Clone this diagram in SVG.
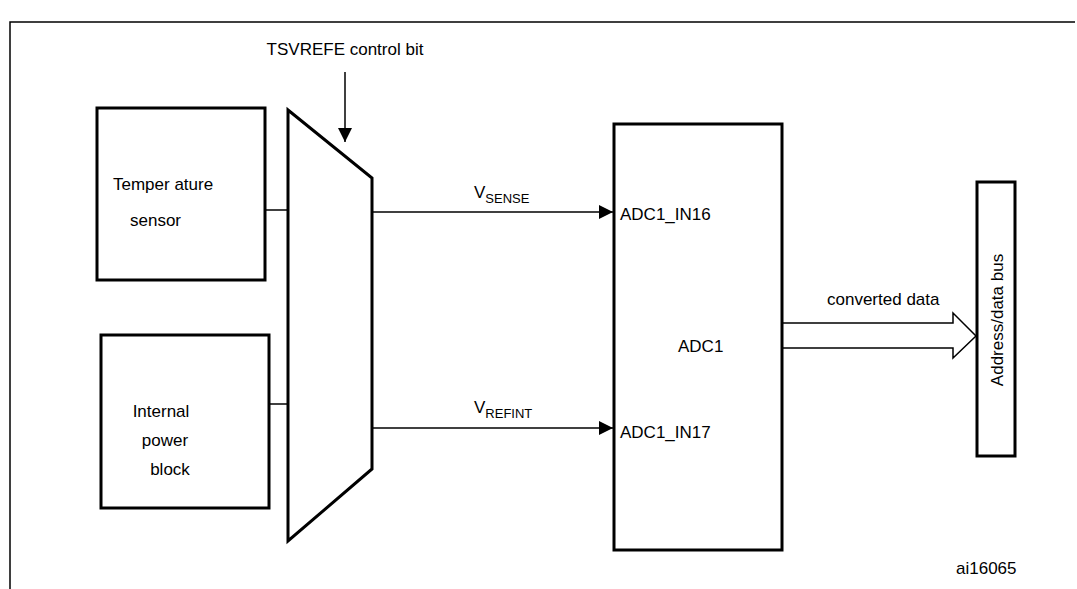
<svg xmlns="http://www.w3.org/2000/svg" width="1077" height="589" viewBox="0 0 1077 589">
<defs>
<style>
.b{fill:none;stroke:#000;stroke-width:3}
.l{fill:none;stroke:#000;stroke-width:1.5}
text{font-family:"Liberation Sans",Arial,sans-serif;font-size:17px;fill:#000}
</style>
<marker id="a" viewBox="0 0 10 10" refX="10" refY="5" markerWidth="10" markerHeight="10" markerUnits="userSpaceOnUse" orient="auto"><path d="M0,0L10,5L0,10z"/></marker>
<marker id="a2" viewBox="0 0 10 10" refX="10" refY="5" markerWidth="14" markerHeight="14" markerUnits="userSpaceOnUse" orient="auto"><path d="M0,0L10,5L0,10z"/></marker>
</defs>
<rect width="1077" height="589" fill="#fff"/>
<path d="M10,589V22H1075" class="l" stroke-width="2"/>
<g id="temp"><rect x="97" y="108" width="168" height="172" class="b"/><text x="113" y="190">Temper ature</text><text x="130" y="226">sensor</text></g>
<g id="power"><rect x="101" y="335" width="168" height="173" class="b"/><text x="161" y="417" text-anchor="middle">Internal</text><text x="165" y="446" text-anchor="middle">power</text><text x="170" y="475" text-anchor="middle">block</text></g>
<g id="mux"><polygon points="288,110 372,178 372,469 288,541" class="b"/></g>
<g id="adc"><rect x="614" y="124" width="168" height="426" class="b"/><text x="620" y="220">ADC1_IN16</text><text x="678" y="352">ADC1</text><text x="620" y="438">ADC1_IN17</text></g>
<g id="bus"><rect x="977" y="182" width="38" height="274" class="b"/><text transform="translate(1003,320) rotate(-90)" text-anchor="middle">Address/data bus</text></g>
<g id="connectors">
<text x="345" y="55" text-anchor="middle">TSVREFE control bit</text>
<line x1="345" y1="72" x2="345" y2="142" class="l" marker-end="url(#a2)"/>
<line x1="265" y1="210" x2="288" y2="210" class="l"/>
<line x1="269" y1="404" x2="288" y2="404" class="l"/>
<line x1="372" y1="212" x2="613" y2="212" class="l" marker-end="url(#a2)"/>
<text x="474" y="198">V<tspan font-size="13" dy="5">SENSE</tspan></text>
<line x1="372" y1="428" x2="613" y2="428" class="l" marker-end="url(#a2)"/>
<text x="474" y="413">V<tspan font-size="13" dy="5">REFINT</tspan></text>
<path d="M782,323H953V313L976,336L953,358V348H782" class="l"/>
<text x="827" y="305">converted data</text>
<text x="956" y="574" font-size="14">ai16065</text>
</g>
</svg>
